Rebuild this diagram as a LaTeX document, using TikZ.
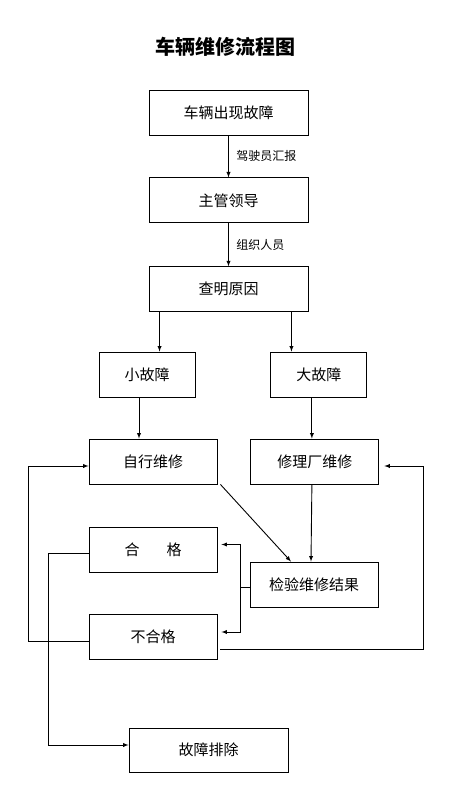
\documentclass[tikz,border=0pt]{standalone}
\usepackage{fontspec}
\newfontfamily\cjk{Noto Sans CJK SC}
\usepackage{tikz}
\usetikzlibrary{arrows,positioning}

\begin{document}
\begin{tikzpicture}[x=1pt,y=1pt,>=latex,line width=0.9pt,
  box/.style={draw,shape=rectangle,minimum height=45pt,inner sep=0pt,font=\cjk\fontsize{15}{18}\selectfont},
  note/.style={font=\cjk\fontsize{12}{14}\selectfont}]
\useasboundingbox (0,0) rectangle (460,-801);

\node[font=\cjk\bfseries\fontsize{20}{24}\selectfont] (t) at (225,-47) {车辆维修流程图};

\node[box,minimum width=159pt] (a) at (228.5,-112.5) {车辆出现故障};
\node[box,minimum width=159pt] [below = 42pt of a] (b) {主管领导};
\node[box,minimum width=159pt] [below = 43pt of b] (c) {查明原因};
\node[box,minimum width=96pt] (d) at (147,-374.5) {小故障};
\node[box,minimum width=96pt] [right = 75pt of d] (e) {大故障};
\node[box,minimum width=128pt] (f) at (153,-461.5) {自行维修};
\node[box,minimum width=128pt] [right = 33pt of f] (g) {修理厂维修};
\node[box,minimum width=128pt] (h) at (153,-549.5) {合\hspace{1.8em}格};
\node[box,minimum width=128pt] (i) at (314,-584.5) {检验维修结果};
\node[box,minimum width=128pt] (j) at (153,-636.5) {不合格};
\node[box,minimum width=159pt,minimum height=44pt] (k) at (208.5,-750) {故障排除};

\draw[->] (a) to node[midway, right=4pt, note] {驾驶员汇报} (b);
\draw[->] (b) to node[midway, right=4pt, note] {组织人员} (c);
\draw[->] ([xshift=11pt]c.south west) -- ([xshift=11pt]c.south west |- d.north);
\draw[->] ([xshift=-17pt]c.south east) -- ([xshift=-17pt]c.south east |- e.north);
\draw[->] ([xshift=-8pt]d.south) -- ([xshift=-8pt]d.south |- f.north);
\draw[->] ([xshift=-7pt]e.south) -- ([xshift=-7pt]e.south |- g.north);
\draw[->] ([xshift=3pt]f.south east) -- ([xshift=-23pt]i.north);
\draw[->] ([xshift=-3pt]g.south) -- ([xshift=-3pt]i.north);

% result check
\draw ([yshift=-3pt]i.west) -- ++(-9,0) coordinate (m);
\draw[->] (m) |- ([shift={(4pt,5pt)}]h.east);
\draw[->] (m) |- ([shift={(4pt,4.5pt)}]j.east);

% loops back
\draw[->] ([yshift=-5pt]j.west) -- ++(-60,0) |- ([yshift=-4.5pt]f.west);
\draw[->] ([shift={(3pt,-12.5pt)}]j.east) -| ([shift={(44pt,-4.5pt)}]g.east) -- ([shift={(5pt,-4.5pt)}]g.east);
\draw[->] ([yshift=-3.5pt]h.west) -- ++(-40,0) |- ([yshift=5pt]k.west);
\end{tikzpicture}
\end{document}
